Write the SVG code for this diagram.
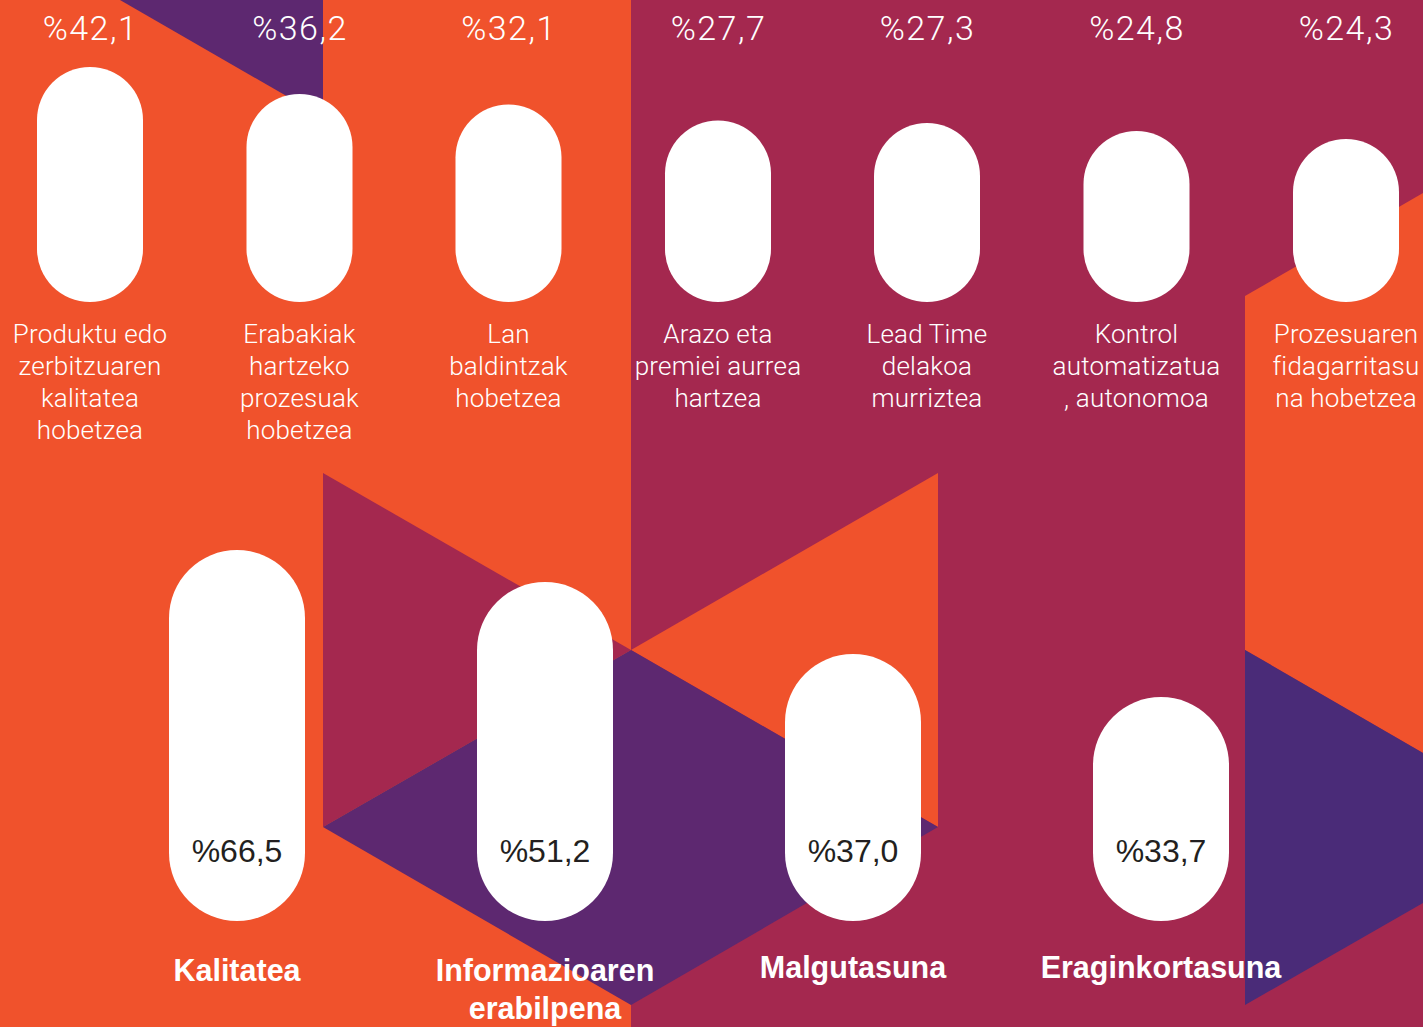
<svg xmlns="http://www.w3.org/2000/svg" width="1423" height="1027" viewBox="0 0 1423 1027">
<style>
.org{fill:#F0522C}.crm{fill:#A4284F}.pur{fill:#5D2870}.pur2{fill:#4A2B78}
.pill{fill:#FFFFFF}
.pct{font-family:Roboto,"Liberation Sans",sans-serif;font-weight:300;font-size:34px;letter-spacing:1.5px;fill:#FFFFFF;text-anchor:middle}
.lbl{font-family:Roboto,"Liberation Sans",sans-serif;font-weight:300;font-size:26px;letter-spacing:0.2px;fill:#FFFFFF;text-anchor:middle}
.val{font-family:"Liberation Sans",Arial,sans-serif;font-size:32px;fill:#231F20;text-anchor:middle}
.cat{font-family:"Liberation Sans",Arial,sans-serif;font-weight:bold;font-size:30.5px;fill:#FFFFFF;text-anchor:middle}
</style>
<g id="background">
<rect class="org" x="0" y="0" width="1423" height="1027"/>
<polygon class="pur" points="120,0 323,0 323,117"/>
<rect class="crm" x="631" y="0" width="792" height="1027"/>
<polygon class="crm" points="323,473 631,650 323,827"/>
<polygon class="org" points="631,650 938,473 938,827"/>
<polygon class="pur" points="323,827 631,650 938,827 631,1005"/>
<polygon class="org" points="1245,296 1423,193 1423,753 1245,650"/>
<polygon class="pur2" points="1245,650 1423,753 1423,903 1245,1005"/>
</g>
<g id="node-produktu">
<rect class="pill" x="37" y="67" width="106" height="235" rx="53"/>
<text class="pct" x="90.5" y="40">%42,1</text>
<text class="lbl" x="90" y="343">Produktu edo</text>
<text class="lbl" x="90" y="375">zerbitzuaren</text>
<text class="lbl" x="90" y="407">kalitatea</text>
<text class="lbl" x="90" y="439">hobetzea</text>
</g>
<g id="node-erabakiak">
<rect class="pill" x="246.5" y="94" width="106" height="208" rx="53"/>
<text class="pct" x="300" y="40">%36,2</text>
<text class="lbl" x="299.5" y="343">Erabakiak</text>
<text class="lbl" x="299.5" y="375">hartzeko</text>
<text class="lbl" x="299.5" y="407">prozesuak</text>
<text class="lbl" x="299.5" y="439">hobetzea</text>
</g>
<g id="node-lan">
<rect class="pill" x="455.5" y="104.5" width="106" height="197.5" rx="53"/>
<text class="pct" x="509" y="40">%32,1</text>
<text class="lbl" x="508.5" y="343">Lan</text>
<text class="lbl" x="508.5" y="375">baldintzak</text>
<text class="lbl" x="508.5" y="407">hobetzea</text>
</g>
<g id="node-arazo">
<rect class="pill" x="665" y="120.5" width="106" height="181.5" rx="53"/>
<text class="pct" x="718.5" y="40">%27,7</text>
<text class="lbl" x="718" y="343">Arazo eta</text>
<text class="lbl" x="718" y="375">premiei aurrea</text>
<text class="lbl" x="718" y="407">hartzea</text>
</g>
<g id="node-leadtime">
<rect class="pill" x="874" y="123" width="106" height="179" rx="53"/>
<text class="pct" x="927.5" y="40">%27,3</text>
<text class="lbl" x="927" y="343">Lead Time</text>
<text class="lbl" x="927" y="375">delakoa</text>
<text class="lbl" x="927" y="407">murriztea</text>
</g>
<g id="node-kontrol">
<rect class="pill" x="1083.5" y="131" width="106" height="171" rx="53"/>
<text class="pct" x="1137" y="40">%24,8</text>
<text class="lbl" x="1136.5" y="343">Kontrol</text>
<text class="lbl" x="1136.5" y="375">automatizatua</text>
<text class="lbl" x="1136.5" y="407">, autonomoa</text>
</g>
<g id="node-prozesuaren">
<rect class="pill" x="1293" y="139" width="106" height="163" rx="53"/>
<text class="pct" x="1346.5" y="40">%24,3</text>
<text class="lbl" x="1346" y="343">Prozesuaren</text>
<text class="lbl" x="1346" y="375">fidagarritasu</text>
<text class="lbl" x="1346" y="407">na hobetzea</text>
</g>
<g id="node-kalitatea">
<rect class="pill" x="169" y="550" width="136" height="371" rx="68"/>
<text class="val" x="237" y="862">%66,5</text>
<text class="cat" x="237" y="981">Kalitatea</text>
</g>
<g id="node-informazioaren">
<rect class="pill" x="477" y="582" width="136" height="339" rx="68"/>
<text class="val" x="545" y="862">%51,2</text>
<text class="cat" x="545" y="981">Informazioaren</text>
<text class="cat" x="545" y="1019">erabilpena</text>
</g>
<g id="node-malgutasuna">
<rect class="pill" x="785" y="654" width="136" height="267" rx="68"/>
<text class="val" x="853" y="862">%37,0</text>
<text class="cat" x="853" y="978">Malgutasuna</text>
</g>
<g id="node-eraginkortasuna">
<rect class="pill" x="1093" y="697" width="136" height="224" rx="68"/>
<text class="val" x="1161" y="862">%33,7</text>
<text class="cat" x="1161" y="978">Eraginkortasuna</text>
</g>
<g id="connectors"/>
</svg>
